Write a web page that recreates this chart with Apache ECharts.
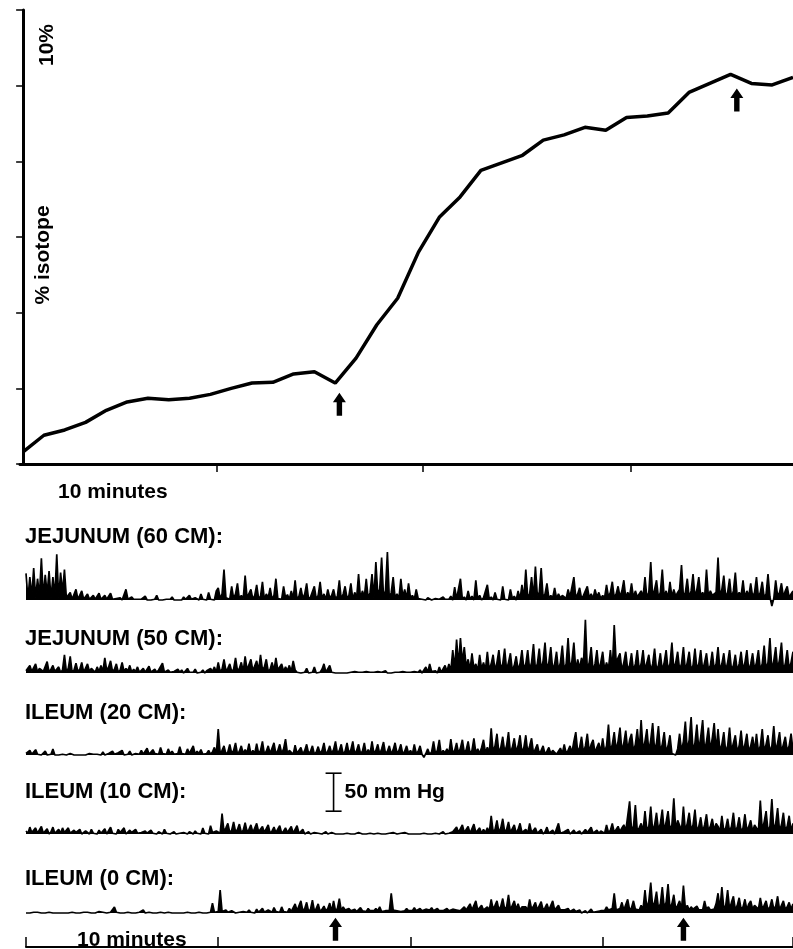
<!DOCTYPE html>
<html>
<head>
<meta charset="utf-8">
<script src="https://cdn.jsdelivr.net/npm/echarts@6/dist/echarts.min.js"></script>
<style>
  html, body { margin: 0; padding: 0; background: #fff; }
  #chart { width: 793px; height: 949px; }
</style>
</head>
<body>
<div id="chart"></div>
<script>
// top panel: % isotope, one sample per minute
var isoTime = [0, 1, 2, 3, 4, 5, 6, 7, 8, 9, 10, 11, 12, 13, 14, 15, 16, 17, 18,
  19, 20, 21, 22, 23, 24, 25, 26, 27, 28, 29, 30, 31, 32, 33, 34, 35, 36, 37];
var isoPct = [1.6, 3.8, 4.5, 5.5, 7.1, 8.2, 8.7, 8.5, 8.7, 9.2, 10.0, 10.7, 10.8, 11.9,
  12.2, 10.7, 14.0, 18.4, 21.9, 28.0, 32.6, 35.3, 38.8, 39.8, 40.8, 42.8, 43.5, 44.5,
  44.1, 45.8, 46.0, 46.4, 49.1, 50.3, 51.5, 50.3, 50.1, 51.1];
var isoTicks = [9.3, 19.2, 29.2];
var isoArrows = [[15.2, 7.9], [34.3, 48.1]];

// pressure traces (mm Hg above baseline), one sample every 0.1 min
var traceNames = ['JEJUNUM (60 CM):', 'JEJUNUM (50 CM):', 'ILEUM (20 CM):', 'ILEUM (10 CM):', 'ILEUM (0 CM):'];
var jejunum60 = [
  35, 2, 30, 5, 42, 3, 28, 6, 55, 4, 33, 8, 38, 2, 30, 5, 60, 3, 36, 10,
  40, 3, 2, 10, 1, 2, 14, 1, 2, 12, 1, 3, 8, 1, 2, 6, 1, 3, 9, 1,
  1, 6, 1, 0, 9, 1, 0, 2, 1, 3, 0, 1, 14, 1, 0, 4, 1, 0, 1, 0,
  1, 0, 5, 0, 1, 0, 0, 1, 6, 0, 1, 0, 0, 1, 0, 1, 4, 0, 1, 0,
  1, 0, 4, 1, 0, 6, 1, 0, 3, 1, 0, 8, 1, 2, 0, 10, 1, 3, 0, 12,
  16, 2, 8, 40, 3, 5, 1, 18, 2, 8, 22, 1, 6, 2, 32, 3, 4, 14, 1, 6,
  20, 2, 5, 24, 1, 8, 3, 16, 1, 6, 28, 2, 4, 1, 18, 3, 7, 1, 12, 2,
  26, 1, 5, 16, 2, 8, 22, 1, 4, 2, 18, 1, 6, 24, 2, 8, 1, 14, 3, 6,
  14, 2, 5, 26, 1, 8, 18, 2, 6, 22, 1, 10, 3, 34, 2, 12, 4, 28, 2, 10,
  34, 3, 50, 8, 14, 56, 4, 12, 63, 2, 10, 30, 3, 8, 2, 28, 4, 14, 2, 22,
  3, 6, 1, 14, 2, 3, 1, 2, 0, 3, 1, 0, 1, 2, 0, 1, 0, 4, 1, 2,
  1, 5, 0, 17, 1, 3, 28, 1, 4, 0, 12, 1, 5, 0, 26, 1, 6, 0, 3, 1,
  20, 1, 4, 0, 10, 1, 3, 0, 18, 1, 3, 0, 14, 2, 5, 0, 12, 1, 20, 2,
  40, 4, 8, 30, 3, 44, 6, 10, 42, 3, 8, 22, 2, 6, 3, 16, 2, 8, 3, 6,
  8, 2, 14, 4, 6, 30, 3, 8, 16, 2, 6, 4, 18, 3, 8, 2, 14, 4, 10, 2,
  6, 3, 20, 4, 10, 24, 3, 8, 18, 4, 12, 26, 3, 10, 5, 22, 3, 12, 4, 8,
  12, 4, 30, 3, 10, 50, 4, 14, 26, 3, 10, 40, 4, 12, 3, 24, 4, 14, 5, 10,
  14, 46, 4, 10, 28, 3, 12, 34, 4, 14, 30, 5, 10, 3, 40, 4, 12, 6, 4, 10,
  56, 5, 14, 32, 4, 10, 28, 3, 12, 36, 4, 10, 6, 26, 3, 12, 5, 22, 4, 10,
  30, 4, 10, 24, 3, 8, 34, 4, -8, 2, 26, 5, 10, 22, 4, 12, 18, 3, 8, 12
];
var jejunum50 = [
  3, 1, 10, 2, 4, 12, 1, 6, 8, 2, 4, 15, 1, 5, 10, 2, 3, 8, 1, 4,
  24, 2, 6, 22, 1, 4, 13, 2, 5, 14, 1, 3, 12, 2, 6, 4, 1, 8, 2, 10,
  2, 20, 3, 8, 16, 2, 5, 12, 1, 4, 14, 2, 6, 3, 10, 1, 5, 2, 8, 1,
  2, 6, 1, 3, 9, 1, 2, 5, 1, 4, 3, 13, 1, 2, 4, 1, 3, 2, 1, 5,
  1, 4, 0, 2, 6, 1, 3, 1, 5, 0, 2, 1, 4, 0, 3, 1, 6, 2, 8, 1,
  14, 2, 5, 18, 3, 6, 12, 2, 5, 20, 3, 6, 14, 2, 22, 4, 6, 18, 3, 5,
  16, 3, 24, 4, 8, 18, 2, 5, 14, 3, 20, 4, 6, 12, 2, 8, 3, 10, 2, 16,
  4, 1, 3, 0, 2, 1, 6, 0, 2, 1, 8, 0, 2, 1, 5, 12, 1, 3, 10, 1,
  1, 0, 1, 0, 2, 0, 1, 0, 0, 1, 0, 2, 0, 1, 0, 1, 0, 2, 0, 1,
  0, 1, 0, 2, 0, 1, 0, 3, 0, 1, 0, 2, 1, 0, 1, 0, 2, 0, 1, 0,
  1, 0, 2, 0, 1, 4, 0, 2, 8, 1, 12, 2, 1, 3, 0, 8, 1, 3, 10, 2,
  12, 3, 30, 6, 44, 10, 46, 14, 34, 8, 18, 4, 26, 6, 12, 3, 24, 5, 14, 4,
  28, 4, 12, 24, 3, 14, 30, 5, 12, 32, 4, 14, 26, 3, 10, 22, 4, 12, 30, 5,
  12, 30, 4, 14, 38, 5, 12, 32, 4, 16, 40, 5, 14, 34, 4, 12, 28, 3, 14, 36,
  4, 12, 46, 5, 16, 40, 4, 18, 6, 20, 12, 70, 4, 14, 34, 3, 12, 30, 4, 14,
  28, 4, 14, 5, 30, 4, 63, 14, 12, 26, 3, 14, 28, 4, 10, 26, 3, 12, 30, 4,
  12, 30, 4, 14, 24, 3, 12, 32, 4, 10, 26, 3, 14, 30, 4, 12, 40, 5, 14, 28,
  4, 12, 34, 3, 14, 28, 4, 10, 32, 5, 12, 30, 3, 14, 26, 4, 10, 28, 5, 12,
  34, 4, 12, 26, 3, 14, 30, 4, 10, 24, 3, 12, 28, 4, 14, 30, 3, 12, 26, 4,
  14, 30, 4, 12, 36, 5, 14, 46, 4, 16, 34, 5, 18, 40, 4, 12, 30, 5, 14, 28
];
var ileum20 = [
  2, 0, 6, 1, 0, 7, 1, 3, 0, 1, 5, 0, 2, 1, 8, 0, 1, 0, 2, 1,
  1, 0, 0, 2, 1, 0, 1, 0, 2, 0, 1, 0, 1, 2, 0, 1, 0, 1, 0, 0,
  4, 0, 1, 2, 0, 5, 1, 0, 3, 1, 6, 0, 2, 1, 5, 0, 1, 2, 0, 1,
  6, 1, 2, 9, 1, 3, 7, 2, 4, 1, 10, 2, 3, 1, 8, 2, 5, 1, 3, 2,
  11, 2, 4, 1, 8, 2, 3, 12, 1, 5, 2, 7, 1, 3, 2, 6, 1, 4, 10, 2,
  34, 2, 6, 12, 1, 4, 14, 2, 6, 16, 1, 5, 12, 2, 7, 3, 15, 1, 6, 2,
  15, 2, 6, 18, 1, 5, 12, 2, 4, 16, 1, 6, 14, 2, 8, 21, 2, 6, 8, 1,
  13, 2, 4, 10, 1, 6, 14, 2, 5, 12, 1, 4, 11, 2, 6, 16, 1, 5, 12, 2,
  7, 18, 2, 6, 14, 1, 5, 16, 2, 7, 18, 1, 6, 14, 2, 5, 16, 1, 7, 2,
  18, 2, 6, 14, 1, 8, 17, 2, 5, 12, 1, 7, 16, 2, 6, 14, 1, 5, 12, 2,
  6, 1, 14, 2, 5, 12, 1, -3, 2, 8, 1, 4, 18, 2, 6, 20, 1, 6, 3, 8,
  2, 21, 3, 6, 16, 2, 9, 20, 3, 7, 18, 2, 6, 22, 3, 8, 2, 10, 20, 3,
  10, 3, 35, 4, 12, 28, 3, 10, 24, 4, 12, 30, 3, 10, 22, 4, 12, 26, 3, 10,
  26, 3, 12, 22, 2, 8, 14, 2, 6, 12, 1, 5, 10, 2, 6, 8, 1, 5, 9, 2,
  14, 2, 6, 12, 3, 18, 30, 4, 10, 24, 3, 12, 28, 4, 14, 20, 3, 10, 16, 4,
  22, 4, 12, 40, 5, 14, 30, 6, 18, 36, 5, 16, 32, 6, 20, 28, 5, 14, 34, 6,
  46, 6, 18, 34, 5, 20, 42, 6, 16, 38, 5, 14, 30, 4, 12, 26, 2, 4, 0, 8,
  28, 5, 18, 44, 6, 20, 50, 5, 16, 40, 6, 24, 46, 5, 18, 36, 6, 22, 42, 5,
  34, 5, 14, 30, 4, 12, 36, 5, 16, 26, 4, 12, 32, 5, 14, 28, 4, 12, 24, 5,
  28, 4, 12, 34, 5, 14, 26, 4, 12, 38, 5, 16, 30, 4, 14, 24, 5, 12, 28, 6
];
var ileum10 = [
  4, 1, 9, 2, 0, 8, 1, 3, 10, 1, 2, 7, 0, 3, 9, 1, 2, 6, 1, 8,
  2, 0, 8, 1, 0, 5, 2, 1, 6, 0, 1, 4, 2, 0, 6, 1, 3, 0, 5, 1,
  1, 7, 0, 2, 9, 1, 3, 0, 6, 2, 1, 8, 0, 1, 5, 2, 0, 6, 1, 3,
  2, 0, 4, 1, 0, 5, 1, 2, 0, 3, 1, 0, 6, 1, 2, 0, 1, 3, 0, 1,
  1, 0, 2, 1, 0, 3, 1, 0, 4, 1, 2, 0, 8, 1, 3, 0, 11, 2, 1, 4,
  4, 1, 27, 3, 8, 14, 2, 5, 16, 3, 6, 13, 2, 5, 15, 3, 6, 12, 2, 4,
  14, 3, 5, 10, 2, 3, 12, 1, 4, 9, 2, 3, 11, 1, 4, 8, 2, 3, 10, 1,
  3, 11, 1, 2, 6, 0, 1, 3, 0, 1, 2, 0, 1, 2, 0, 1, 3, 0, 1, 2,
  1, 0, 2, 0, 1, 0, 0, 1, 2, 0, 1, 0, 0, 2, 1, 0, 1, 0, 0, 1,
  1, 0, 0, 1, 2, 0, 1, 0, 0, 1, 0, 2, 1, 0, 0, 1, 0, 2, 1, 0,
  1, 0, 2, 0, 1, 0, 0, 1, 3, 0, 1, 0, 0, 1, 2, 0, 1, 3, 0, 2,
  1, 0, 3, 1, 9, 2, 1, 12, 2, 4, 10, 1, 3, 13, 2, 5, 8, 1, 6, 2,
  8, 2, 24, 3, 6, 18, 2, 8, 20, 3, 6, 16, 2, 4, 12, 1, 6, 14, 2, 3,
  6, 1, 14, 2, 3, 8, 1, 2, 6, 0, 3, 9, 1, 2, 5, 0, 2, 14, 1, 3,
  3, 1, 6, 0, 2, 5, 1, 2, 4, 0, 1, 6, 2, 3, 9, 1, 2, 5, 1, 4,
  4, 1, 12, 2, 5, 14, 2, 6, 10, 3, 8, 12, 4, 5, 43, 6, 10, 38, 4, 8,
  14, 4, 30, 5, 10, 36, 4, 12, 28, 5, 14, 32, 4, 16, 30, 5, 12, 47, 6, 18,
  18, 5, 36, 4, 14, 28, 5, 12, 32, 4, 10, 22, 3, 12, 26, 4, 10, 20, 5, 14,
  10, 3, 24, 4, 8, 20, 3, 10, 28, 4, 9, 22, 3, 8, 26, 4, 10, 18, 3, 12,
  12, 4, 44, 5, 16, 30, 4, 10, 46, 5, 14, 34, 4, 12, 28, 5, 10, 24, 4, 14
];
var ileum0 = [
  0, 1, 0, 0, 1, 0, 1, 0, 0, 1, 0, 0, 1, 0, 0, 1, 0, 1, 0, 0,
  0, 1, 0, 0, 1, 0, 0, 1, 0, 0, 1, 0, 1, 0, 0, 1, 0, 0, 2, 0,
  1, 0, 0, 2, 1, 0, 8, 1, 0, 0, 1, 0, 0, 1, 0, 0, 1, 0, 0, 1,
  0, 4, 0, 0, 1, 0, 0, 1, 0, 0, 1, 0, 0, 0, 1, 0, 0, 1, 0, 0,
  0, 1, 0, 0, 1, 0, 0, 1, 0, 0, 1, 0, 0, 1, 0, 0, 1, 13, 1, 0,
  2, 30, 2, 1, 4, 1, 2, 3, 1, 0, 2, 1, 1, 2, 0, 1, 4, 1, 2, 0,
  5, 1, 2, 6, 1, 0, 4, 2, 1, 7, 2, 3, 1, 8, 2, 4, 1, 6, 2, 3,
  12, 3, 4, 16, 3, 6, 14, 2, 5, 17, 3, 6, 12, 2, 5, 9, 3, 6, 13, 2,
  16, 3, 6, 19, 3, 8, 4, 2, 6, 3, 2, 5, 2, 1, 7, 3, 4, 2, 6, 3,
  4, 3, 6, 3, 8, 2, 4, 3, 5, 3, 26, 4, 6, 3, 5, 2, 4, 3, 6, 3,
  4, 3, 7, 3, 4, 6, 3, 4, 5, 3, 4, 7, 3, 4, 6, 3, 5, 3, 4, 6,
  3, 4, 5, 3, 4, 6, 3, 4, 8, 4, 5, 12, 4, 6, 16, 4, 5, 10, 4, 6,
  8, 4, 18, 5, 10, 16, 4, 9, 19, 5, 8, 24, 4, 10, 16, 5, 12, 4, 8, 6,
  8, 4, 18, 5, 9, 14, 4, 6, 15, 4, 7, 12, 4, 5, 16, 4, 6, 10, 4, 3,
  4, 3, 6, 2, 3, 5, 2, 1, 4, 0, 1, 3, 0, 2, 5, 1, 3, 2, 4, 3,
  4, 3, 8, 4, 5, 6, 26, 4, 5, 6, 14, 4, 5, 18, 4, 7, 16, 5, 6, 4,
  10, 5, 30, 6, 16, 40, 8, 14, 28, 6, 12, 34, 7, 14, 38, 6, 12, 24, 5, 10,
  16, 5, 36, 6, 10, 4, 8, 5, 4, 9, 4, 3, 4, 16, 5, 8, 4, 6, 5, 12,
  26, 5, 34, 6, 10, 30, 5, 14, 22, 4, 10, 20, 5, 8, 18, 4, 12, 16, 5, 10,
  9, 5, 20, 6, 10, 16, 4, 8, 18, 5, 9, 22, 4, 10, 16, 5, 8, 14, 5, 12
];
var traceValues = [jejunum60, jejunum50, ileum20, ileum10, ileum0];
var sampleStep = 0.1;
var scaleBar = [[16.0, 30, 80]];
var bottomArrows = [[16.1, 3.8], [34.2, 3.8]];

var FONT = 'bold 21px "Liberation Sans"';
var LABEL_FONT = 'bold 22px "Liberation Sans"';
var ARROW = 'path://M6,0 L12,9 L8.5,9 L8.5,22 L3.5,22 L3.5,9 L0,9 Z';

var chart = echarts.init(document.getElementById('chart'));

// trace baselines (px) -> grid tops, y range -15..85 mm Hg over 76px
var baselines = [600, 673, 755, 834, 913];

var grids = [{ left: 20, right: 0, top: 10, height: 454 }];
var xAxes = [{
  gridIndex: 0, type: 'value', min: -0.15, max: 37,
  axisLine: { lineStyle: { color: '#000', width: 3 } },
  axisTick: { show: true, inside: false, length: 8, lineStyle: { color: '#000', width: 1.5 }, customValues: isoTicks },
  axisLabel: { show: false }, splitLine: { show: false }
}];
var yAxes = [{
  gridIndex: 0, type: 'value', min: 0, max: 60, interval: 10,
  axisLine: { show: true, lineStyle: { color: '#000', width: 3 } },
  axisTick: { show: true, inside: false, length: 7, lineStyle: { color: '#000', width: 1.5 } },
  axisLabel: { show: false }, splitLine: { show: false }
}];
var series = [{
  type: 'line', xAxisIndex: 0, yAxisIndex: 0,
  data: isoTime.map(function (t, i) { return [t, isoPct[i]]; }),
  showSymbol: false, lineStyle: { color: '#000', width: 3.5 }, itemStyle: { color: '#000' }
}, {
  type: 'scatter', xAxisIndex: 0, yAxisIndex: 0, data: isoArrows,
  symbol: ARROW, symbolSize: [13, 23], itemStyle: { color: '#000', opacity: 1 }, clip: false
}];

traceValues.forEach(function (vals, k) {
  var gi = grids.length;
  grids.push({ left: 26, right: 0, top: baselines[k] - 64.6, height: 76 });
  xAxes.push({ gridIndex: gi, type: 'value', min: 0, max: 39.9, show: false });
  yAxes.push({ gridIndex: gi, type: 'value', min: -15, max: 85, show: false });
  series.push({
    type: 'line', xAxisIndex: gi, yAxisIndex: gi,
    data: vals.map(function (v, i) { return [i * sampleStep, v]; }),
    showSymbol: false, sampling: null,
    lineStyle: { color: '#000', width: 1.7 }, itemStyle: { color: '#000' },
    areaStyle: { color: '#000', opacity: 1 }
  });
  if (k === 3) {
    series.push({
      type: 'custom', xAxisIndex: gi, yAxisIndex: gi, data: scaleBar, clip: false,
      renderItem: function (params, api) {
        var top = api.coord([api.value(0), api.value(2)]);
        var bot = api.coord([api.value(0), api.value(1)]);
        var st = { stroke: '#000', lineWidth: 1.6 };
        return {
          type: 'group', children: [
            { type: 'line', shape: { x1: top[0], y1: top[1], x2: bot[0], y2: bot[1] }, style: st },
            { type: 'line', shape: { x1: top[0] - 8, y1: top[1], x2: top[0] + 8, y2: top[1] }, style: st },
            { type: 'line', shape: { x1: bot[0] - 8, y1: bot[1], x2: bot[0] + 8, y2: bot[1] }, style: st },
            { type: 'text', x: top[0] + 11, y: (top[1] + bot[1]) / 2,
              style: { text: '50 mm Hg', font: FONT, fill: '#000', verticalAlign: 'middle' } }
          ]
        };
      }
    });
  }
});

// bottom time axis
var bg = grids.length;
grids.push({ left: 26, right: 0, top: 900, height: 47 });
xAxes.push({
  gridIndex: bg, type: 'value', min: 0, max: 39.9, interval: 10,
  axisLine: { lineStyle: { color: '#000', width: 2 } },
  axisTick: { show: true, inside: true, length: 10, lineStyle: { color: '#000', width: 1.5 } },
  axisLabel: { show: false }, splitLine: { show: false }
});
yAxes.push({ gridIndex: bg, type: 'value', min: 0, max: 10, show: false });
series.push({
  type: 'scatter', xAxisIndex: bg, yAxisIndex: bg, data: bottomArrows,
  symbol: ARROW, symbolSize: [13, 23], itemStyle: { color: '#000', opacity: 1 }, clip: false
});

var labelY = [537, 639, 713, 792, 879];
var graphics = [
  { type: 'text', x: 47, y: 45, rotation: Math.PI / 2,
    style: { text: '10%', font: FONT, fill: '#000', align: 'center', verticalAlign: 'middle' } },
  { type: 'text', x: 43, y: 255, rotation: Math.PI / 2,
    style: { text: '% isotope', font: FONT, fill: '#000', align: 'center', verticalAlign: 'middle' } },
  { type: 'text', x: 58, y: 492,
    style: { text: '10 minutes', font: FONT, fill: '#000', verticalAlign: 'middle' } },
  { type: 'text', x: 77, y: 940,
    style: { text: '10 minutes', font: FONT, fill: '#000', verticalAlign: 'middle' } }
];
traceNames.forEach(function (name, k) {
  graphics.push({ type: 'text', x: 25, y: labelY[k],
    style: { text: name, font: LABEL_FONT, fill: '#000', verticalAlign: 'middle' } });
});

chart.setOption({
  animation: false,
  backgroundColor: '#fff',
  tooltip: { show: false },
  grid: grids,
  xAxis: xAxes,
  yAxis: yAxes,
  series: series,
  graphic: { elements: graphics }
});
</script>
</body>
</html>
